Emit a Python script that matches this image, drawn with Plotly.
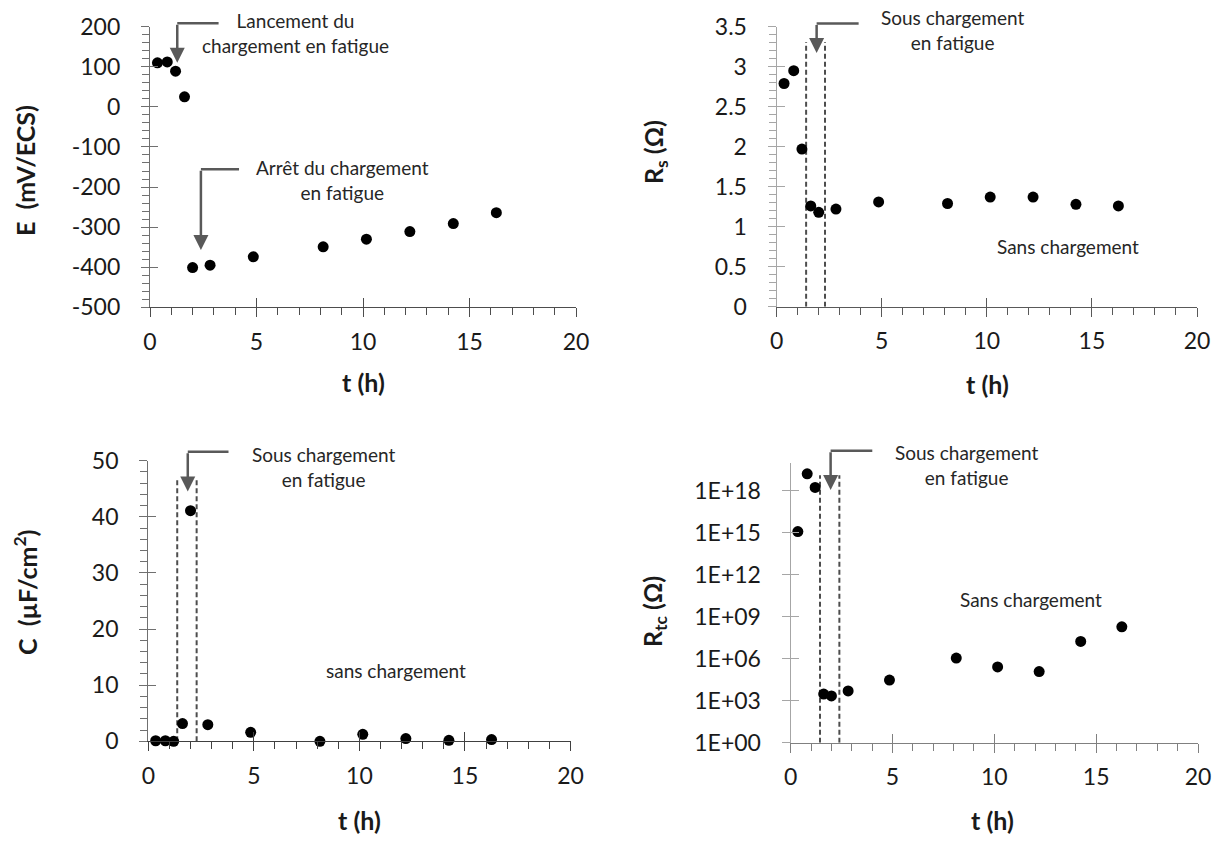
import plotly.graph_objects as go

# ---- data ----
t_h = [0.35, 0.81, 1.2, 1.62, 2.0, 2.82, 4.85, 8.13, 10.16, 12.2, 14.24, 16.26]
E_mV = [110, 112, 89, 25, -401, -395, -374, -349, -330, -311, -291, -264]
Rs_ohm = [2.79, 2.95, 1.97, 1.26, 1.18, 1.22, 1.31, 1.29, 1.37, 1.37, 1.28, 1.26]
C_uF = [0.1, 0.1, 0.0, 3.15, 41.1, 2.97, 1.6, 0.0, 1.25, 0.48, 0.18, 0.3]
Rtc_ohm = [1.2e15, 1.6e19, 1.7e18, 3.0e3, 2.2e3, 5.0e3, 3.0e4, 1.1e6, 2.6e5, 1.2e5, 1.7e7, 1.9e8]

# fatigue-loading window bounds (h) per panel (dashed lines)
load_window_Rs = [1.40, 2.30]
load_window_C = [1.37, 2.29]
load_window_Rtc = [1.44, 2.39]

E_ticks = [-500, -400, -300, -200, -100, 0, 100, 200]
E_tick_text = ["-500", "-400", "-300", "-200", "-100", "0", "100", "200"]
log_ticks_Rtc = [1, 1e3, 1e6, 1e9, 1e12, 1e15, 1e18]
log_tick_text = ["1E+00", "1E+03", "1E+06", "1E+09", "1E+12", "1E+15", "1E+18"]

FONT = "Lato"
W, H = 1219, 842

fig = go.Figure()

def sid(i):
    return "" if i == 1 else str(i)

def dom_x(a, b):
    return [a / W, b / W]

def dom_y(top, bottom):
    return [1 - bottom / H, 1 - top / H]

panels = {
    1: dict(x=dom_x(150, 576), y=dom_y(26.7, 307.3)),
    2: dict(x=dom_x(776.7, 1197), y=dom_y(26.7, 306.7)),
    3: dict(x=dom_x(148.3, 570.5), y=dom_y(460.7, 741.3)),
    4: dict(x=dom_x(790.7, 1198), y=dom_y(462.7, 742.7)),
}

marker = dict(color="black", size=11, line=dict(width=0))

def add_points(y, i):
    fig.add_trace(go.Scatter(x=t_h, y=y, mode="markers", marker=marker,
                             xaxis=f"x{sid(i)}", yaxis=f"y{sid(i)}", showlegend=False,
                             hoverinfo="skip", cliponaxis=False))

def add_window(win, ytop, i, ybottom):
    for xv in win:
        fig.add_trace(go.Scatter(x=[xv, xv], y=[ybottom, ytop], mode="lines",
                                 line=dict(color="#4d4d4d", width=2, dash="5px,3px"),
                                 xaxis=f"x{sid(i)}", yaxis=f"y{sid(i)}", showlegend=False,
                                 hoverinfo="skip"))

add_window(load_window_Rs, 3.31, 2, 0)
add_window(load_window_C, 47.0, 3, 0)
add_window(load_window_Rtc, 10 ** 19.1, 4, 1)

add_points(E_mV, 1)
add_points(Rs_ohm, 2)
add_points(C_uF, 3)
add_points(Rtc_ohm, 4)

for i in range(5, 9):
    fig.add_trace(go.Scatter(x=[None], y=[None], xaxis=f"x{i}", yaxis=f"y{i}",
                             showlegend=False, hoverinfo="skip"))

tickfont = dict(family=FONT, size=23, color="#1a1a1a")

axis_specs = {
    1: dict(xr=[0, 20], yr=[-500, 200], ydt=100, yminor=20, ycol="#707070", xcol="#4d4d4d", ytype="linear"),
    2: dict(xr=[0, 20], yr=[0, 3.5], ydt=0.5, yminor=0.1, ycol="#a6a6a6", xcol="#595959", ytype="linear"),
    3: dict(xr=[0, 20], yr=[0, 50], ydt=10, yminor=2, ycol="#707070", xcol="#404040", ytype="linear"),
    4: dict(xr=[0, 20], yr=[0, 20], ydt=None, yminor=None, ycol="#a6a6a6", xcol="#808080", ytype="log"),
}

layout = dict(template="none", width=W, height=H, margin=dict(l=0, r=0, t=0, b=0, autoexpand=False),
              paper_bgcolor="white", plot_bgcolor="rgba(0,0,0,0)",
              font=dict(family=FONT, color="#1a1a1a"), showlegend=False)

for i, s in axis_specs.items():
    d = panels[i]
    layout[f"xaxis{i}"] = dict(
        domain=d["x"], anchor=f"y{sid(i)}", range=s["xr"], dtick=5, tick0=0,
        showline=True, linecolor=s["xcol"], linewidth=1.3,
        ticks="outside", ticklen=9, tickwidth=1.3, tickcolor=s["xcol"],
        minor=dict(ticks="outside", ticklen=7, dtick=1, tickwidth=1.3, tickcolor=s["xcol"],
                   showgrid=False),
        showgrid=False, zeroline=False, tickfont=tickfont, ticklabelstandoff=5,
        automargin=False,
    )
    ya = dict(
        domain=d["y"], anchor=f"x{sid(i)}", range=s["yr"], type=s["ytype"],
        showline=True, linecolor=s["ycol"], linewidth=1.3,
        ticks="outside", ticklen=8, tickwidth=1.3, tickcolor=s["ycol"],
        showgrid=False, zeroline=False, tickfont=tickfont, ticklabelstandoff=16,
        automargin=False,
    )
    if s["ytype"] == "log":
        ya.update(tickvals=log_ticks_Rtc, ticktext=log_tick_text)
    else:
        if i == 1:
            ya.update(tickvals=E_ticks, ticktext=E_tick_text)
        else:
            ya.update(dtick=s["ydt"], tick0=0)
        ya.update(minor=dict(ticks="outside", ticklen=7, dtick=s["yminor"], tick0=0,
                             tickwidth=1.3, tickcolor=s["ycol"], showgrid=False))
    layout[f"yaxis{i}"] = ya

    j = i + 4
    layout[f"xaxis{j}"] = dict(
        overlaying=f"x{sid(i)}", anchor=f"y{sid(i)}", range=s["xr"], dtick=5, tick0=0,
        showline=False, ticks="inside", ticklen=9, tickwidth=1.3, tickcolor=s["xcol"],
        showticklabels=False, showgrid=False, zeroline=False, automargin=False,
    )
    yt = dict(
        overlaying=f"y{sid(i)}", anchor=f"x{sid(i)}", range=s["yr"], type=s["ytype"],
        showline=False, ticks="inside", ticklen=8, tickwidth=1.3, tickcolor=s["ycol"],
        showticklabels=False, showgrid=False, zeroline=False, automargin=False,
    )
    if s["ytype"] == "log":
        yt.update(tickvals=log_ticks_Rtc)
    else:
        yt.update(dtick=s["ydt"], tick0=0)
    layout[f"yaxis{j}"] = yt

fig.update_layout(**layout)

# ---- annotations ----
ann_font = dict(family=FONT, size=19, color="#262626")
arrow_col = "#595959"

def text_ann(txt, x, y, i):
    fig.add_annotation(text=txt, x=x, y=y, xref=f"x{sid(i)}", yref=f"y{sid(i)}",
                       showarrow=False, font=ann_font, align="center",
                       xanchor="center", yanchor="middle")

def elbow_arrow(x_v, y_top, x_right, y_tip, i):
    r0, r1 = axis_specs[i]["yr"]
    frac = (y_top - r0) / (r1 - r0)  # position on the y axis domain
    fig.add_annotation(x=x_v, y=frac, ax=x_right, ay=0,
                       xref=f"x{sid(i)}", yref=f"y{sid(i)} domain",
                       axref=f"x{sid(i)}", ayref="pixel", text="", showarrow=True,
                       arrowhead=0, arrowwidth=2.5, arrowcolor=arrow_col,
                       standoff=0, startstandoff=0)
    fig.add_annotation(x=x_v, y=y_tip, ax=x_v, ay=y_top,
                       xref=f"x{sid(i)}", yref=f"y{sid(i)}",
                       axref=f"x{sid(i)}", ayref=f"y{sid(i)}", text="", showarrow=True,
                       arrowhead=2, arrowsize=1.2, arrowwidth=2.5, arrowcolor=arrow_col,
                       standoff=0, startstandoff=0)

elbow_arrow(1.28, 208.5, 3.29, 110, 1)
text_ann("Lancement du<br>chargement en fatigue", 6.83, 183.5, 1)
elbow_arrow(2.39, -155.7, 4.25, -357, 1)
text_ann("Arrêt du chargement<br>en fatigue", 9.04, -181.5, 1)

elbow_arrow(1.90, 3.54, 3.97, 3.17, 2)
text_ann("Sous chargement<br>en fatigue", 8.37, 3.465, 2)
text_ann("Sans chargement", 13.87, 0.758, 2)

elbow_arrow(1.87, 51.6, 3.87, 44.5, 3)
text_ann("Sous chargement<br>en fatigue", 8.31, 48.8, 3)
text_ann("sans chargement", 11.73, 12.7, 3)

elbow_arrow(1.96, 20.86, 4.08, 18.05, 4)
text_ann("Sous chargement<br>en fatigue", 8.62, 19.87, 4)
text_ann("Sans chargement", 11.81, 10.26, 4)

# ---- axis titles ----
title_font = dict(family=FONT, size=25, color="#1a1a1a")

def title_ann(txt, xpx, ypx, angle=0):
    fig.add_annotation(text=f"<b>{txt}</b>", x=xpx / W, y=1 - ypx / H,
                       xref="paper", yref="paper", showarrow=False,
                       font=title_font, textangle=angle,
                       xanchor="center", yanchor="middle")

title_ann("t (h)", 363, 382)
title_ann("t (h)", 987, 384)
title_ann("t (h)", 359, 820)
title_ann("t (h)", 992, 820)
title_ann("E  (mV/ECS)", 25, 171, -90)
title_ann("R<sub>s</sub> (Ω)", 655, 152, -90)
title_ann("C  (µF/cm<sup>2</sup>)", 25, 593, -90)
title_ann("R<sub>tc</sub> (Ω)", 654, 611, -90)

fig.write_html(
    "out.html",
    config={"displayModeBar": False},
    post_script="document.body.style.margin='0px';document.body.style.overflow='hidden';",
)
